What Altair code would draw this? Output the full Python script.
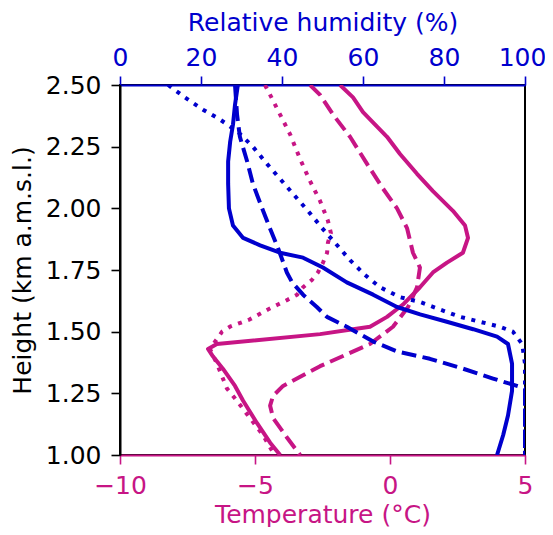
import altair as alt
import pandas as pd

MAGENTA = "#C71585"
BLUE = "#0000CD"
FONT = "DejaVu Sans"

# Temperature profiles (height km, temperature °C)
t_solid_h = [2.50, 2.45, 2.39, 2.34, 2.29, 2.22, 2.14, 2.07, 1.99, 1.93, 1.88, 1.82, 1.78, 1.74, 1.68,
             1.61, 1.56, 1.52, 1.51, 1.49, 1.45, 1.43, 1.40, 1.35, 1.28, 1.22, 1.13, 1.05, 1.00]
t_solid = [-1.85, -1.37, -1.0, -0.56, -0.11, 0.37, 1.0, 1.59, 2.33, 2.78, 2.89, 2.70, 2.11, 1.59, 1.11,
           0.48, -0.11, -0.74, -1.37, -2.59, -6.41, -6.74, -6.56, -6.19, -5.74, -5.44, -4.93, -4.44, -4.07]

t_dash_h = [2.50, 2.46, 2.38, 2.29, 2.18, 2.08, 2.00, 1.92, 1.82, 1.76, 1.68, 1.60, 1.52, 1.45, 1.36,
            1.28, 1.24, 1.20, 1.15, 1.07, 1.00]
t_dash = [-2.96, -2.59, -2.11, -1.48, -0.85, -0.26, 0.26, 0.63, 0.85, 1.11, 1.0, 0.67, 0.11, -0.74, -2.59,
          -3.96, -4.33, -4.44, -4.33, -3.81, -3.33]

t_dot_h = [2.50, 2.46, 2.38, 2.30, 2.20, 2.11, 2.03, 1.95, 1.90, 1.86, 1.82, 1.78, 1.74, 1.71, 1.68,
           1.65, 1.63, 1.61, 1.59, 1.55, 1.52, 1.50, 1.47, 1.43, 1.37, 1.27, 1.22, 1.15, 1.08, 1.01, 1.00]
t_dot = [-4.63, -4.44, -4.07, -3.70, -3.33, -2.96, -2.59, -2.30, -2.19, -2.30, -2.33, -2.48, -2.67, -2.89, -3.22,
         -3.44, -3.78, -4.15, -4.52, -5.19, -5.93, -6.22, -6.41, -6.67, -6.41, -6.04, -5.67, -5.19, -4.70, -4.33, -4.22]

# Relative humidity profiles (height km, RH %)
rh_solid_h = [2.50, 2.42, 2.34, 2.27, 2.19, 2.10, 2.00, 1.93, 1.88, 1.85, 1.82, 1.80, 1.76, 1.70, 1.65,
              1.60, 1.57, 1.54, 1.51, 1.48, 1.45, 1.37, 1.26, 1.16, 1.08, 1.00]
rh_solid = [29.1, 28.4, 27.9, 27.2, 26.7, 26.7, 26.9, 27.9, 30.4, 34.6, 39.5, 45.2, 50.1, 56.0, 62.5,
            68.4, 74.1, 80.7, 87.2, 93.1, 95.8, 96.8, 96.8, 95.8, 94.6, 93.1]

rh_dash_h = [2.50, 2.38, 2.29, 2.19, 2.10, 2.00, 1.92, 1.84, 1.74, 1.70, 1.65, 1.60, 1.56, 1.52, 1.46,
             1.42, 1.39, 1.35, 1.31, 1.27, 1.00]
rh_dash = [28.4, 28.9, 29.6, 31.4, 32.8, 35.1, 37.0, 39.0, 41.2, 42.5, 45.2, 48.6, 51.1, 56.0, 62.5,
           68.4, 76.5, 84.7, 92.1, 100.0, 100.0]

rh_dot_h = [2.50, 2.45, 2.40, 2.36, 2.31, 2.25, 2.18, 2.12, 2.05, 1.99, 1.92, 1.86, 1.79, 1.73, 1.68,
            1.64, 1.62, 1.59, 1.56, 1.54, 1.52, 1.50, 1.45, 1.37, 1.00]
rh_dot = [11.9, 16.0, 20.5, 24.7, 29.1, 32.8, 36.3, 39.5, 43.2, 46.4, 49.9, 53.1, 56.8, 60.5, 64.2,
          69.1, 74.1, 79.0, 84.0, 88.9, 93.8, 97.0, 99.3, 100.0, 100.0]

y_ticks = [1.0, 1.25, 1.5, 1.75, 2.0, 2.25, 2.5]
t_ticks = [-10, -5, 0, 5]
rh_ticks = [0, 20, 40, 60, 80, 100]

DASHED = [14.8, 6.4]
DOTTED = [4, 6.6]

y_scale = alt.Scale(domain=[1.0, 2.5], nice=False, zero=False)
t_scale = alt.Scale(domain=[-10, 5], nice=False, zero=False)
rh_scale = alt.Scale(domain=[0, 100], nice=False, zero=False)


def frame(hs, vs):
    return pd.DataFrame({"h": hs, "v": vs, "i": list(range(len(hs)))})


y_axis = alt.Axis(
    orient="left", values=y_ticks, format=".2f", title="Height (km a.m.s.l.)",
    domainColor="black", domainWidth=2, tickColor="black", tickWidth=1.6, tickSize=9,
    labelColor="black", labelFontSize=25, labelFont=FONT, labelPadding=10,
    titleColor="black", titleFontSize=25, titleFont=FONT, titleFontWeight="normal",
    titleX=-90, titleY=185, titleAngle=270, titleBaseline="alphabetic", titleAlign="center",
    grid=False, labelFlush=False, labelOverlap=False,
)

t_axis = alt.Axis(
    orient="bottom", values=t_ticks, format="d", title="Temperature (°C)",
    domainColor=MAGENTA, domainWidth=2, tickColor=MAGENTA, tickWidth=1.6, tickSize=9,
    labelColor=MAGENTA, labelFontSize=25, labelFont=FONT, labelBaseline="alphabetic", labelPadding=29,
    titleColor=MAGENTA, titleFontSize=25, titleFont=FONT, titleFontWeight="normal",
    titleX=202.5, titleY=67, titleBaseline="alphabetic", titleAlign="center",
    grid=False, labelFlush=False, labelOverlap=False,
)

rh_axis = alt.Axis(
    orient="top", values=rh_ticks, format="d", title="Relative humidity (%)",
    domainColor=BLUE, domainWidth=2, tickColor=BLUE, tickWidth=1.6, tickSize=9,
    labelColor=BLUE, labelFontSize=25, labelFont=FONT, labelBaseline="alphabetic", labelPadding=11,
    labelOffset={"condition": {"test": "datum.value == 100", "value": -3}, "value": 0},
    titleColor=BLUE, titleFontSize=25, titleFont=FONT, titleFontWeight="normal",
    titleX=202.5, titleY=-55, titleBaseline="alphabetic", titleAlign="center",
    grid=False, labelFlush=False, labelOverlap=False,
)


def line(df, color, dash, xscale, xaxis):
    kw = dict(color=color, strokeWidth=4, clip=True, strokeCap="butt", strokeJoin="round")
    if dash is not None:
        kw["strokeDash"] = dash
    return alt.Chart(df).mark_line(**kw).encode(
        x=alt.X("v:Q", scale=xscale, axis=xaxis),
        y=alt.Y("h:Q", scale=y_scale, axis=y_axis),
        order=alt.Order("i:Q"),
    )


temp = alt.layer(
    line(frame(t_dot_h, t_dot), MAGENTA, DOTTED, t_scale, t_axis),
    line(frame(t_dash_h, t_dash), MAGENTA, DASHED, t_scale, t_axis),
    line(frame(t_solid_h, t_solid), MAGENTA, None, t_scale, t_axis),
)

rh = alt.layer(
    line(frame(rh_dot_h, rh_dot), BLUE, DOTTED, rh_scale, rh_axis),
    line(frame(rh_dash_h, rh_dash), BLUE, DASHED, rh_scale, rh_axis),
    line(frame(rh_solid_h, rh_solid), BLUE, None, rh_scale, rh_axis),
)

chart = alt.layer(temp, rh).resolve_scale(x="independent").properties(
    width=405, height=370,
    autosize=alt.AutoSizeParams(type="none"),
    padding={"left": 112, "top": 77, "right": 20, "bottom": 72},
    background="white",
).configure_view(stroke="black", strokeWidth=2)

chart.save("out.html", embed_options={"renderer": "svg", "actions": False})
